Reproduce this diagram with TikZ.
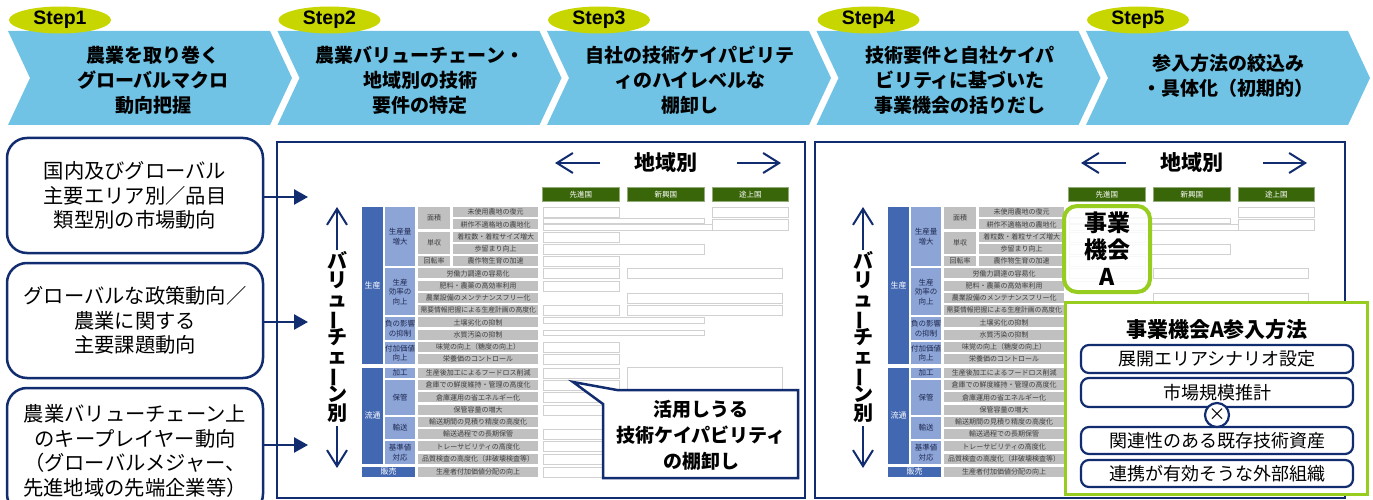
\documentclass[tikz,border=0pt]{standalone}
\usepackage{fontspec}
\setmainfont{Noto Sans CJK JP}
\newfontfamily\arialf{Liberation Sans}
\usetikzlibrary{arrows.meta,shapes.geometric}
\definecolor{navy}{RGB}{18,44,112}
\definecolor{chev}{RGB}{112,195,228}
\definecolor{stepy}{RGB}{200,214,0}
\definecolor{dblue}{RGB}{66,104,178}
\definecolor{lblue}{RGB}{140,165,214}
\definecolor{cgray}{RGB}{192,192,192}
\definecolor{rgreen}{RGB}{58,102,10}
\definecolor{lime}{RGB}{150,205,30}
\definecolor{txtnavy}{RGB}{30,40,80}
\newcommand\vcell[7]{\node[#6,minimum width=#4pt,minimum height=#5pt,anchor=north west] (#1) at (#2,#3) {#7};}
\newcommand\vch[1]{\raisebox{0pt}[14pt][3pt]{#1}}
\newcommand\vbar{\raisebox{0pt}[14pt][3pt]{\rotatebox[origin=c]{90}{ー}}}
\tikzset{
 dcell/.style={fill=dblue,text=white,inner sep=0pt,font=\fontsize{8}{9}\selectfont},
 lcell/.style={fill=lblue,text=txtnavy,inner sep=0pt,align=center,font=\fontsize{7.5}{9.5}\selectfont},
 gcell/.style={fill=cgray,text=black!75,inner sep=0pt,font=\fontsize{7}{8}\selectfont},
 wcell/.style={draw=black!18,line width=0.6pt,fill=white,inner sep=0pt},
 hcell/.style={fill=rgreen,draw=rgreen!55!white,line width=0.8pt,text=white,inner sep=0pt,font=\fontsize{7.5}{8}\selectfont},
 headtxt/.style={align=center,font=\bfseries\fontsize{19}{25}\selectfont,text=black},
 stepell/.style={ellipse,fill=stepy,minimum width=102pt,minimum height=27pt,inner sep=0pt,font=\arialf\bfseries\fontsize{19.5}{19.5}\selectfont},
 lbox/.style={draw=navy,line width=2.5pt,rounded corners=20pt,fill=white,align=center,font=\fontsize{20.3}{24.5}\selectfont,minimum width=256pt},
 panel/.style={draw=navy,line width=2.5pt,fill=white},
 inarrow/.style={draw=navy,line width=2.5pt,-{Triangle[length=14pt,width=15pt]}},
 openarr/.style={draw=navy,line width=2pt,-{Straight Barb[length=16pt,width=20pt]}},
 vtxt/.style={align=center,inner sep=0pt,font=\bfseries\fontsize{20}{19}\selectfont},
 bigtxt/.style={font=\bfseries\fontsize{21}{21}\selectfont,inner sep=0pt},
 callout/.style={draw=navy,line width=2.5pt,fill=white,line join=miter},
 calltxt/.style={align=center,font=\bfseries\fontsize{19}{26}\selectfont},
 oppbox/.style={draw=lime,line width=4pt,rounded corners=13pt,fill=white,fill opacity=0.85,text opacity=1,align=center,font=\bfseries\fontsize{23}{27}\selectfont,minimum width=86pt,minimum height=86pt,inner sep=0pt},
 entbox/.style={draw=lime,line width=3pt,fill=white},
 sbox/.style={draw=navy,line width=2.2pt,rounded corners=8pt,fill=white,minimum width=272pt,inner sep=0pt,font=\fontsize{18}{18}\selectfont},
 xcirc/.style={circle,draw=navy,line width=2.2pt,fill=white,minimum size=24pt,inner sep=0pt,font=\fontsize{17}{17}\selectfont},
}
\newcommand\vctable{%
 % region header
 \vcell{hA}{542}{187}{77}{14}{hcell}{先進国}
 \vcell{hB}{627}{187}{77}{14}{hcell}{新興国}
 \vcell{hC}{712}{187}{76}{14}{hcell}{途上国}
 \node[bigtxt] (reg) at (666,163) {地域別};
 \coordinate (regL1) at (600,163); \coordinate (regL2) at (555,163);
 \coordinate (regR1) at (737,163); \coordinate (regR2) at (781,163);
 \draw[openarr] (regL1) -- (regL2);
 \draw[openarr] (regR1) -- (regR2);
 % vertical label
 \coordinate (vu1) at (337,250); \coordinate (vu2) at (337,207);
 \coordinate (vd1) at (337,426); \coordinate (vd2) at (337,468);
 \draw[openarr] (vu1) -- (vu2);
 \draw[openarr] (vd1) -- (vd2);
 \node[vtxt] (vlab) at (337,339) {\vch{バ}\\\vch{リ}\\\vch{ュ}\\\vbar\\\vch{チ}\\\vch{ェ}\\\vbar\\\vch{ン}\\\vch{別}};
 % column A
 \vcell{cA1}{362}{207}{21}{157}{dcell}{生産}
 \vcell{cA2}{362}{367.75}{21}{95.75}{dcell}{流通}
 \vcell{cA3}{362}{466.75}{53}{10}{dcell}{販売}
 % column B
 \vcell{cB1}{385}{207}{30}{59}{lcell}{生産量\\増大}
 \vcell{cB2}{385}{268.25}{30}{46.75}{lcell}{生産\\効率の\\向上}
 \vcell{cB3}{385}{317.25}{30}{22.25}{lcell}{負の影響\\の抑制}
 \vcell{cB4}{385}{341.75}{30}{22.25}{lcell}{付加価値\\向上}
 \vcell{cB5}{385}{367.75}{30}{10}{lcell}{加工}
 \vcell{cB6}{385}{380}{30}{34.5}{lcell}{保管}
 \vcell{cB7}{385}{416.75}{30}{22.25}{lcell}{輸送}
 \vcell{cB8}{385}{441.25}{30}{22.25}{lcell}{基準値\\対応}
 % column C
 \vcell{cC1}{418}{207}{32}{22.25}{gcell}{面積}
 \vcell{cC2}{418}{231.5}{32}{22.25}{gcell}{単収}
 \vcell{cC3}{418}{256}{32}{10}{gcell}{回転率}
 % column D
 \vcell{d1}{453}{207}{85}{10}{gcell}{未使用農地の復元}
 \vcell{d2}{453}{219.25}{85}{10}{gcell}{耕作不適格地の農地化}
 \vcell{d3}{453}{231.5}{85}{10}{gcell}{着粒数・着粒サイズ増大}
 \vcell{d4}{453}{243.75}{85}{10}{gcell}{歩留まり向上}
 \vcell{d5}{453}{256}{85}{10}{gcell}{農作物生育の加速}
 \vcell{d6}{418}{268.25}{120}{10}{gcell}{労働力調達の容易化}
 \vcell{d7}{418}{280.5}{120}{10}{gcell}{肥料・農薬の高効率利用}
 \vcell{d8}{418}{292.75}{120}{10}{gcell}{農業設備のメンテナンスフリー化}
 \vcell{d9}{418}{305}{120}{10}{gcell,font=\fontsize{6.8}{8}\selectfont}{需要情報把握による生産計画の高度化}
 \vcell{d10}{418}{317.25}{120}{10}{gcell}{土壌劣化の抑制}
 \vcell{d11}{418}{329.5}{120}{10}{gcell}{水質汚染の抑制}
 \vcell{d12}{418}{341.75}{120}{10}{gcell}{味覚の向上（糖度の向上）}
 \vcell{d13}{418}{354}{120}{10}{gcell}{栄養価のコントロール}
 \vcell{d14}{418}{367.75}{120}{10}{gcell}{生産後加工によるフードロス削減}
 \vcell{d15}{418}{380}{120}{10}{gcell}{倉庫での鮮度維持・管理の高度化}
 \vcell{d16}{418}{392.25}{120}{10}{gcell}{倉庫運用の省エネルギー化}
 \vcell{d17}{418}{404.5}{120}{10}{gcell}{保管容量の増大}
 \vcell{d18}{418}{416.75}{120}{10}{gcell}{輸送期間の見積り精度の高度化}
 \vcell{d19}{418}{429}{120}{10}{gcell}{輸送過程での長期保管}
 \vcell{d20}{418}{441.25}{120}{10}{gcell}{トレーサビリティの高度化}
 \vcell{d21}{418}{453.5}{120}{10}{gcell}{品質検査の高度化（非破壊検査等）}
 \vcell{d22}{418}{466.75}{120}{10}{gcell}{生産者付加価値分配の向上}
 % region cells
 \vcell{w1}{543}{207}{76}{10}{wcell}{}
 \vcell{w2}{712}{207}{76}{10}{wcell}{}
 \vcell{w3}{543}{218}{161}{5}{wcell}{}
 \vcell{w4}{543}{224}{169}{5.5}{wcell}{}
 \vcell{w5}{712}{218.5}{76}{11}{wcell}{}
 \vcell{w6}{543}{231.5}{76}{10}{wcell}{}
 \vcell{w7}{543}{243.75}{161}{10}{wcell}{}
 \vcell{w8}{543}{256}{76}{10}{wcell}{}
 \vcell{w9}{543}{268.25}{76}{10}{wcell}{}
 \vcell{w10}{627}{268.25}{155}{10}{wcell}{}
 \vcell{w11}{543}{280.5}{76}{10}{wcell}{}
 \vcell{w12}{627}{292.75}{155}{10}{wcell}{}
 \vcell{w13}{543}{305}{76}{10}{wcell}{}
 \vcell{w14}{627}{305}{155}{10}{wcell}{}
 \vcell{w15}{543}{317.25}{161}{5.5}{wcell}{}
 \vcell{w16}{543}{329.5}{161}{5.5}{wcell}{}
 \vcell{w17}{543}{341.75}{76}{10}{wcell}{}
 \vcell{w18}{543}{354}{76}{10}{wcell}{}
 \vcell{w19}{543}{367.75}{76}{10}{wcell}{}
 \vcell{w20}{627}{367}{155}{60}{wcell}{}
 \vcell{w21}{543}{380}{76}{10}{wcell}{}
 \vcell{w22}{543}{392.25}{76}{10}{wcell}{}
 \vcell{w23}{543}{404.5}{76}{10}{wcell}{}
 \vcell{w24}{543}{429}{76}{10}{wcell}{}
 \vcell{w25}{543}{441.25}{76}{10}{wcell}{}
 \vcell{w26}{543}{453.5}{76}{10}{wcell}{}
 \vcell{w27}{543}{466.75}{76}{10}{wcell}{}
}
\begin{document}
\begin{tikzpicture}[x=1pt,y=-1pt]
\useasboundingbox (0,0) rectangle (1373,500);
% chevrons
\foreach \x in {8,277.5,547,816.5,1086}{
  \fill[chev] (\x,31) -- ++(262,0) -- ++(22,47) -- ++(-22,47) -- ++(-262,0) -- ++(22,-47) -- cycle;}
\node[headtxt] (h1) at (153,80) {農業を取り巻く\\グローバルマクロ\\動向把握};
\node[headtxt] (h2) at (420,80) {農業バリューチェーン・\\地域別の技術\\要件の特定};
\node[headtxt] (h3) at (690,80) {自社の技術ケイパビリテ\\ィのハイレベルな\\棚卸し};
\node[headtxt] (h4) at (960,80) {技術要件と自社ケイパ\\ビリティに基づいた\\事業機会の括りだし};
\node[headtxt] (h5) at (1228,76) {参入方法の絞込み\\・具体化（初期的）};
\foreach \i/\x in {1/60,2/329.5,3/599,4/868.5,5/1138}{
  \node[stepell] (s\i) at (\x,20) {Step\i};}
% panels
\node[panel,minimum width=528pt,minimum height=356pt] (mp) at (541,320) {};
\node[panel,minimum width=530pt,minimum height=356pt] (rp) at (1080,320) {};
% left boxes
\node[lbox,minimum height=115pt] (b1) at (135,195.5) {国内及びグローバル\\主要エリア別／品目\\類型別の市場動向};
\node[lbox,minimum height=115pt] (b2) at (135,320.5) {グローバルな政策動向／\\農業に関する\\主要課題動向};
\node[lbox,minimum height=126pt] (b3) at (135,451) {農業バリューチェーン上\\のキープレイヤー動向\\（グローバルメジャー、\\先進地域の先端企業等）};
\coordinate (a1) at (308,197);
\coordinate (a2) at (308,322);
\coordinate (a3) at (308,445);
\draw[inarrow] (b1.east |- a1) -- (a1);
\draw[inarrow] (b2.east |- a2) -- (a2);
\draw[inarrow] (b3.east |- a3) -- (a3);
% tables
\begin{scope}[name prefix=m-]
\vctable
\end{scope}
\begin{scope}[shift={(526,0)},name prefix=r-]
\vctable
\end{scope}
% callout
\coordinate (cp) at (573,382);
\draw[callout] (603,478) -- (603,404) -- (cp) -- (617,390) -- (798,390) -- (798,478) -- cycle;
\node[calltxt] (ct) at (701,435) {活用しうる\\技術ケイパビリティ\\の棚卸し};
% right overlays
\node[oppbox] (opp) at (1107,249) {事業\\機会\\A};
\node[entbox,minimum width=302pt,minimum height=192pt] (ent) at (1216,398) {};
\node[font=\bfseries\fontsize{21}{21}\selectfont,inner sep=0pt] (entt) at (1217,330) {事業機会A参入方法};
\node[sbox,minimum height=28pt] (e1) at (1217,359) {展開エリアシナリオ設定};
\node[sbox,minimum height=29pt] (e2) at (1217,392.5) {市場規模推計};
\node[sbox,minimum height=27pt] (e3) at (1217,440.5) {関連性のある既存技術資産};
\node[sbox,minimum height=27pt] (e4) at (1217,473.5) {連携が有効そうな外部組織};
\node[xcirc] (ex) at (1217,415) {×};
\end{tikzpicture}
\end{document}
